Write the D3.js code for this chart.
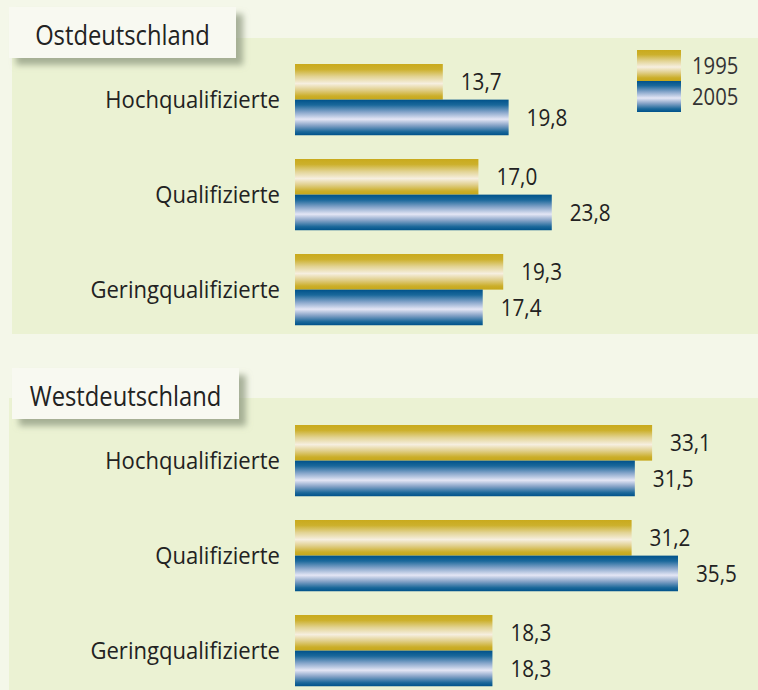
<!DOCTYPE html>
<html>
<head>
<meta charset="utf-8">
<script src="https://cdn.jsdelivr.net/npm/d3@7"></script>
<style>
  html, body { margin: 0; padding: 0; background: #f4f7e9; }
  svg { display: block; font-family: "Open Sans", sans-serif; }
</style>
</head>
<body>
<div id="chart"></div>
<script>
// data
const categories = ['Hochqualifizierte', 'Qualifizierte', 'Geringqualifizierte']
const years = ['1995', '2005']
const ost1995 = [13.7, 17.0, 19.3]
const ost2005 = [19.8, 23.8, 17.4]
const west1995 = [33.1, 31.2, 18.3]
const west2005 = [31.5, 35.5, 18.3]
const titles = ['Ostdeutschland', 'Westdeutschland']

const width = 758, height = 690

const svg = d3.select('#chart').append('svg')
    .attr('width', width)
    .attr('height', height)

const defs = svg.append('defs')

// shiny bar gradients
const gradStops = {
    '1995': [[0, '#c9aa1c'], [0.15, '#ccb02c'], [0.35, '#e2d393'], [0.55, '#f6efe0'], [0.72, '#e1d08e'], [0.9, '#cbae29'], [1, '#c6a71a']],
    '2005': [[0, '#00528a'], [0.15, '#1a689b'], [0.35, '#86a5ca'], [0.55, '#e4e6f5'], [0.72, '#88a4c8'], [0.9, '#1b689a'], [1, '#00528a']]
}
years.forEach(yr => {
    const g = defs.append('linearGradient')
        .attr('id', 'grad' + yr)
        .attr('x1', 0).attr('y1', 0).attr('x2', 0).attr('y2', 1)
    g.selectAll('stop').data(gradStops[yr]).join('stop')
        .attr('offset', d => d[0])
        .attr('stop-color', d => d[1])
})

const shadow = defs.append('filter').attr('id', 'shadow')
    .attr('x', -0.1).attr('y', -0.2).attr('width', 1.3).attr('height', 1.6)
shadow.append('feDropShadow')
    .attr('dx', 7).attr('dy', 7).attr('stdDeviation', 3)
    .attr('flood-color', '#8f9a80').attr('flood-opacity', 0.75)

// the original face is condensed, so squeeze text a bit horizontally
const label = (sel, x, y, size, sx) => sel
    .attr('transform', `translate(${x},${y}) scale(${sx},1)`)
    .attr('dy', '0.36em')
    .attr('font-size', size)

const x = d3.scaleLinear().domain([0, 35.5]).range([295, 678])

const panels = [
    { title: titles[0], v1995: ost1995, v2005: ost2005, panelTop: 38, panelBottom: 334, panelLeft: 12, box: [9, 7, 227, 51], barTop: 64 },
    { title: titles[1], v1995: west1995, v2005: west2005, panelTop: 398, panelBottom: 690, panelLeft: 9, box: [12, 368, 227, 51], barTop: 425 }
]

panels.forEach(p => {
    const g = svg.append('g')

    g.append('rect')
        .attr('x', p.panelLeft).attr('y', p.panelTop)
        .attr('width', width - p.panelLeft).attr('height', p.panelBottom - p.panelTop)
        .attr('fill', '#ebf2d3')

    const y = d3.scaleBand().domain(categories)
        .range([p.barTop, p.barTop + 95 * 2.75])
        .paddingInner(0.25).paddingOuter(0)
    const ySub = d3.scaleBand().domain(years).range([0, y.bandwidth()])

    const rows = categories.map((c, i) => ({ cat: c, vals: [p.v1995[i], p.v2005[i]] }))

    const grp = g.selectAll('g.grp').data(rows).join('g')
        .attr('class', 'grp')
        .attr('transform', d => `translate(0,${y(d.cat)})`)

    grp.selectAll('rect').data(d => d.vals.map((v, j) => ({ yr: years[j], v })))
        .join('rect')
        .attr('x', x(0))
        .attr('y', d => ySub(d.yr))
        .attr('width', d => x(d.v) - x(0))
        .attr('height', ySub.bandwidth())
        .attr('fill', d => `url(#grad${d.yr})`)

    grp.selectAll('text.val').data(d => d.vals.map((v, j) => ({ yr: years[j], v })))
        .join('text')
        .attr('class', 'val')
        .each(function (d) {
            label(d3.select(this), x(d.v) + 18, ySub(d.yr) + ySub.bandwidth() / 2, 23.5, 0.88)
        })
        .attr('fill', '#222')
        .text(d => d3.format('.1f')(d.v).replace('.', ','))

    grp.append('text')
        .call(label, 280, y.bandwidth() / 2, 24, 0.92)
        .attr('text-anchor', 'end')
        .attr('fill', '#222')
        .text(d => d.cat)

    // title box
    g.append('rect')
        .attr('x', p.box[0]).attr('y', p.box[1])
        .attr('width', p.box[2]).attr('height', p.box[3])
        .attr('fill', '#f8f9f1')
        .attr('filter', 'url(#shadow)')
    g.append('text')
        .call(label, p.box[0] + p.box[2] / 2, p.box[1] + p.box[3] / 2 + 2.5, 27, 0.88)
        .attr('text-anchor', 'middle')
        .attr('fill', '#222')
        .text(p.title)
})

// legend
const legend = svg.append('g').attr('transform', 'translate(637,50)')
legend.selectAll('rect').data(years).join('rect')
    .attr('x', 0).attr('y', (d, i) => i * 31)
    .attr('width', 44).attr('height', 31)
    .attr('fill', d => `url(#grad${d})`)
legend.selectAll('text').data(years).join('text')
    .each(function (d, i) {
        label(d3.select(this), 55, i * 31 + 16, 23, 0.88)
    })
    .attr('fill', '#333')
    .text(d => d)
</script>
</body>
</html>
